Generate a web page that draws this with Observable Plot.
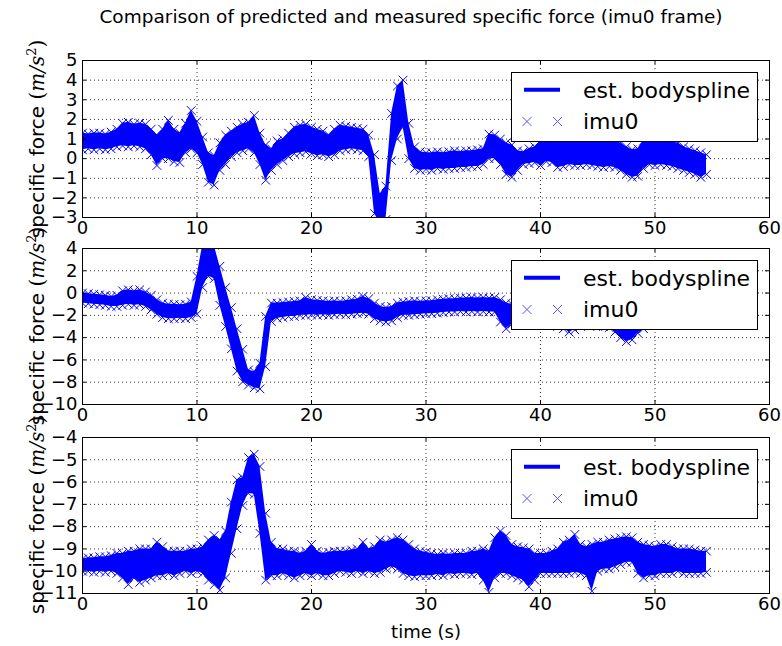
<!DOCTYPE html>
<html><head><meta charset="utf-8">
<script src="https://cdn.jsdelivr.net/npm/d3@7"></script>
<script src="https://cdn.jsdelivr.net/npm/@observablehq/plot@0.6"></script>
<style>
body{margin:0;background:#fff;font-family:"DejaVu Sans",sans-serif;color:#000;}
#wrap{position:relative;width:782px;height:646px;overflow:hidden;background:#fff;}
.panel{position:absolute;left:0;}
.title{position:absolute;top:6px;left:0;width:822px;text-align:center;font-size:18.5px;white-space:nowrap;}
.ylab{position:absolute;left:37px;font-size:20px;white-space:nowrap;transform:translate(-50%,-50%) rotate(-90deg);}
.ylab .m{font-family:"DejaVu Serif",serif;font-style:italic;}
.ylab .p{font-family:"DejaVu Serif",serif;}
.ylab sup{font-size:13px;font-family:"DejaVu Serif",serif;vertical-align:8px;line-height:0;}
.legend{position:absolute;left:511px;}
.xlab{position:absolute;top:621px;left:0;width:852px;text-align:center;font-size:18px;}
</style>
</head><body>
<div id="wrap">
  <div class="title">Comparison of predicted and measured specific force (imu0 frame)</div>
</div>
<script>
// time samples (s)
const T = [0,0.5,1,1.5,2,2.5,3,3.5,4,4.5,5,5.5,6,6.5,7,7.5,8,8.5,9,9.5,
10,10.5,11,11.5,12,12.5,13,13.5,14,14.5,15,15.5,16,16.5,17,17.5,18,18.5,19,19.5,
20,20.5,21,21.5,22,22.5,23,23.5,24,24.5,25,25.5,26,26.5,27,27.5,28,28.5,29,29.5,
30,30.5,31,31.5,32,32.5,33,33.5,34,34.5,35,35.5,36,36.5,37,37.5,38,38.5,39,39.5,
40,40.5,41,41.5,42,42.5,43,43.5,44,44.5,45,45.5,46,46.5,47,47.5,48,48.5,49,49.5,
50,50.5,51,51.5,52,52.5,53,53.5,54,54.5];

// Panel 1 (x axis): lower / upper envelope of imu0 samples
const lo1 = [0.45,0.5,0.45,0.5,0.45,0.5,0.6,0.65,0.6,0.65,
0.6,0.5,0.2,-0.35,0.0,0.0,-0.15,-0.2,0.3,0.5,
0.3,-0.3,-1.2,-1.35,-0.6,-0.3,0.1,0.3,0.4,0.5,
0.3,-0.3,-1.1,-0.6,-0.3,-0.1,0.1,0.25,0.3,0.35,
0.25,0.15,0.2,0.1,0.2,0.4,0.45,0.5,0.45,0.4,
0.1,-2.8,-3.3,-3.1,-0.1,1.0,1.6,0.0,-0.5,-0.6,
-0.55,-0.6,-0.5,-0.55,-0.5,-0.5,-0.45,-0.45,-0.4,-0.4,
-0.3,0.0,0.0,-0.3,-0.8,-0.95,-0.6,-0.3,-0.25,-0.2,
-0.35,-0.15,-0.2,-0.45,-0.4,-0.3,-0.35,-0.35,-0.3,-0.35,
-0.4,-0.45,-0.4,-0.45,-0.6,-0.8,-0.95,-0.9,-0.5,-0.3,
-0.35,-0.3,-0.35,-0.4,-0.5,-0.6,-0.7,-0.8,-0.95,-0.8];
const hi1 = [1.3,1.25,1.3,1.3,1.25,1.35,1.5,1.8,1.85,1.75,
1.8,1.75,1.5,1.2,1.5,1.95,1.5,1.3,1.8,2.45,
1.9,1.1,0.3,0.15,0.8,1.2,1.4,1.6,1.75,1.85,
2.2,1.3,0.7,0.5,0.9,1.0,1.3,1.6,1.7,1.75,
1.6,1.5,1.4,1.2,1.5,1.7,1.65,1.6,1.55,1.5,
1.2,0.2,-1.8,-1.4,2.3,3.7,4.0,1.8,0.6,0.35,
0.3,0.3,0.35,0.3,0.35,0.4,0.35,0.4,0.4,0.45,
0.5,1.25,1.2,1.0,0.8,0.7,0.4,0.35,0.5,0.6,
0.9,1.0,1.0,0.9,0.9,1.0,1.0,1.0,1.1,1.0,
0.95,0.9,0.9,0.9,0.8,0.6,0.45,0.5,0.9,1.0,
1.0,0.95,0.9,0.85,0.8,0.6,0.5,0.4,0.3,0.2];

// Panel 2 (y axis)
const lo2 = [-0.9,-0.95,-1.0,-1.05,-1.1,-1.2,-1.2,-1.1,-1.0,-1.1,
-1.05,-1.2,-1.5,-1.9,-2.2,-2.3,-2.3,-2.25,-2.3,-2.2,
-1.9,0.5,1.5,1.3,-1.1,-3.0,-5.0,-7.0,-7.95,-8.25,
-8.5,-8.6,-6.6,-2.55,-2.25,-2.2,-2.1,-2.1,-2.0,-2.0,
-1.95,-2.0,-1.95,-2.0,-1.95,-1.9,-1.95,-1.9,-1.85,-1.8,
-1.9,-2.3,-2.5,-2.6,-2.5,-2.2,-2.0,-2.0,-1.95,-1.9,
-1.85,-1.85,-1.8,-1.75,-1.7,-1.7,-1.65,-1.7,-1.65,-1.7,
-1.65,-1.7,-1.7,-2.6,-3.2,-2.8,-2.6,-2.5,-2.5,-2.6,
-2.7,-2.7,-2.8,-3.0,-3.2,-3.5,-3.3,-3.0,-2.9,-2.9,
-3.0,-3.0,-3.1,-3.5,-4.0,-4.35,-4.2,-3.6,-3.2,-2.8,
-2.7,-2.7,-2.7,-2.6,-2.6,-2.6,-2.7,-2.7,-2.6,-2.6];
const hi2 = [0.0,-0.05,-0.1,-0.15,-0.2,-0.3,-0.2,0.2,0.3,0.2,
0.3,0.1,-0.2,-0.6,-0.9,-1.0,-1.0,-1.05,-1.0,-0.8,
1.5,4.3,4.3,4.3,2.4,0.5,-1.3,-3.2,-5.05,-6.9,
-7.05,-6.3,-2.1,-0.9,-0.9,-0.85,-0.8,-0.75,-0.7,-0.4,
-0.6,-0.65,-0.7,-0.75,-0.7,-0.75,-0.7,-0.6,-0.55,-0.3,
-0.5,-0.9,-1.2,-1.3,-1.2,-0.9,-0.8,-0.75,-0.7,-0.75,
-0.7,-0.7,-0.6,-0.55,-0.5,-0.5,-0.45,-0.45,-0.4,-0.45,
-0.4,-0.45,-0.4,-0.6,-0.9,-1.0,-1.1,-1.2,-1.2,-1.3,
-1.3,-1.4,-1.4,-1.5,-1.6,-1.7,-1.7,-1.6,-1.5,-1.5,
-1.6,-1.6,-1.7,-2.0,-2.4,-2.6,-2.5,-2.2,-2.0,-1.7,
-1.6,-1.5,-1.5,-1.5,-1.4,-1.4,-1.5,-1.5,-1.4,-1.4];

// Panel 3 (z axis)
const lo3 = [-10.0,-10.0,-10.05,-10.0,-10.05,-10.0,-10.1,-10.3,-10.6,-10.3,
-10.5,-10.4,-10.3,-10.2,-10.2,-10.1,-10.2,-10.1,-10.0,-10.1,
-10.0,-10.1,-10.4,-10.6,-10.85,-10.3,-9.2,-8.1,-7.05,-6.5,
-6.55,-8.3,-10.4,-10.2,-10.2,-10.1,-10.2,-10.3,-10.2,-10.1,
-10.2,-10.1,-10.2,-10.2,-10.1,-10.0,-10.05,-10.1,-10.0,-10.1,
-10.0,-10.1,-10.05,-9.9,-9.8,-9.9,-10.1,-10.2,-10.25,-10.2,
-10.2,-10.2,-10.15,-10.2,-10.1,-10.15,-10.1,-10.1,-10.15,-10.1,
-10.4,-10.95,-10.3,-10.1,-10.1,-10.2,-10.3,-10.4,-10.7,-10.4,
-10.1,-10.1,-10.1,-10.1,-10.1,-10.1,-10.05,-10.1,-10.2,-10.9,
-10.0,-9.9,-9.9,-9.8,-9.7,-9.6,-9.6,-10.1,-10.3,-10.2,
-10.2,-10.1,-10.1,-10.1,-10.0,-10.1,-10.1,-10.1,-10.1,-10.05];
const hi3 = [-9.45,-9.4,-9.4,-9.35,-9.35,-9.3,-9.2,-9.2,-9.1,-9.1,
-9.0,-9.0,-9.0,-8.7,-8.9,-9.1,-9.1,-9.1,-9.1,-9.0,
-9.0,-8.9,-8.6,-8.4,-8.6,-8.2,-6.9,-5.9,-5.8,-4.9,
-4.75,-5.3,-7.4,-8.7,-9.0,-9.0,-9.1,-9.1,-9.2,-9.1,
-8.8,-9.1,-9.2,-9.15,-9.1,-9.1,-9.1,-9.05,-9.0,-8.7,
-9.0,-8.9,-8.6,-8.7,-8.6,-8.5,-8.6,-8.8,-9.0,-9.1,
-9.15,-9.2,-9.25,-9.2,-9.25,-9.2,-9.2,-9.2,-9.1,-9.1,
-9.0,-9.1,-8.5,-8.2,-8.4,-8.8,-8.9,-8.95,-9.0,-9.2,
-9.2,-9.2,-9.1,-9.0,-8.7,-8.6,-8.35,-8.8,-8.9,-8.8,
-8.7,-8.7,-8.6,-8.55,-8.5,-8.45,-8.5,-8.7,-8.8,-8.85,
-8.9,-8.8,-8.8,-8.9,-9.0,-9.0,-9.0,-9.05,-9.1,-9.1];

const X_TICKS = [0,10,20,30,40,50,60];
const Y1_TICKS = [-3,-2,-1,0,1,2,3,4,5];
const Y2_TICKS = [-10,-8,-6,-4,-2,0,2,4];
const Y3_TICKS = [-11,-10,-9,-8,-7,-6,-5,-4];
const SERIES = ["est. bodyspline", "imu0"];
const YLABEL = "specific force";
const XLABEL = "time (s)";

const wrap = document.getElementById("wrap");
const BLUE = "#0000ff";
const fmt = d => (d < 0 ? "\u2212" : "") + Math.abs(d);

function panel(lo, hi, yt, top, frameH) {
  const data = T.map((t, i) => ({t, lo: lo[i], hi: hi[i]}));
  const yd = [yt[0], yt[yt.length - 1]];
  const mt = 10, mb = 30, ml = 82, mr = 13, W = 782;
  const h = frameH + mt + mb;
  const kx = (W - ml - mr) / 60;
  const ky = frameH / (yd[1] - yd[0]);
  const tl = 4;
  const svg = Plot.plot({
    width: W, height: h,
    marginLeft: ml, marginRight: mr, marginTop: mt, marginBottom: mb,
    style: {background: "transparent", overflow: "visible", fontFamily: "DejaVu Sans", fontSize: "18px", color: "#000"},
    x: {domain: [0, 60], ticks: X_TICKS, tickSize: 0, tickPadding: 4, label: null, tickFormat: fmt},
    y: {domain: yd, ticks: yt, tickSize: 0, tickPadding: 5, label: null, tickFormat: fmt},
    marks: [
      Plot.ruleX(X_TICKS, {x: d => d, stroke: "#000", strokeWidth: 0.8, strokeDasharray: "1,3"}),
      Plot.ruleY(yt, {y: d => d, stroke: "#000", strokeWidth: 0.8, strokeDasharray: "1,3"}),
      Plot.areaY(data, {x: "t", y1: "lo", y2: "hi", fill: BLUE, clip: true}),
      Plot.dot(data, {x: "t", y: "lo", symbol: "times", r: 4, stroke: BLUE, strokeWidth: 1, clip: true}),
      Plot.dot(data, {x: "t", y: "hi", symbol: "times", r: 4, stroke: BLUE, strokeWidth: 1, clip: true}),
      Plot.ruleX(X_TICKS, {x: d => d, y1: yd[0], y2: yd[0] + tl / ky, stroke: "#000"}),
      Plot.ruleX(X_TICKS, {x: d => d, y1: yd[1] - tl / ky, y2: yd[1], stroke: "#000"}),
      Plot.ruleY(yt, {y: d => d, x1: 0, x2: tl / kx, stroke: "#000"}),
      Plot.ruleY(yt, {y: d => d, x1: 60 - tl / kx, x2: 60, stroke: "#000"}),
      Plot.frame({stroke: "#000", strokeWidth: 1})
    ]
  });
  svg.classList.add("panel");
  svg.style.top = (top - mt) + "px";
  svg.style.position = "absolute";
  wrap.appendChild(svg);

  // y label
  const yl = document.createElement("div");
  yl.className = "ylab";
  yl.style.top = (top + frameH / 2) + "px";
  yl.innerHTML = YLABEL + ' <span class="p">(</span><span class="m">m/s</span><sup>2</sup><span class="p">)</span>';
  wrap.appendChild(yl);

  // legend
  const lg = document.createElement("div");
  lg.className = "legend";
  lg.style.top = (top + 11.5) + "px";
  const s = d3.create("svg").attr("width", 248).attr("height", 71);
  s.append("rect").attr("x", 0.5).attr("y", 0.5).attr("width", 246).attr("height", 69)
    .attr("fill", "#fff").attr("stroke", "#000").attr("stroke-width", 1);
  s.append("line").attr("x1", 13).attr("x2", 49).attr("y1", 17.8).attr("y2", 17.8)
    .attr("stroke", BLUE).attr("stroke-width", 4);
  for (const cx of [16, 46.5]) {
    s.append("path").attr("d", `M${cx-4.5},${49.5-4.5}L${cx+4.5},${49.5+4.5}M${cx-4.5},${49.5+4.5}L${cx+4.5},${49.5-4.5}`)
      .attr("stroke", "#5555ff").attr("stroke-width", 1).attr("fill", "none");
  }
  s.append("text").attr("x", 72).attr("y", 25.8).attr("font-size", 22).attr("font-family", "DejaVu Sans").text(SERIES[0]);
  s.append("text").attr("x", 72).attr("y", 56.8).attr("font-size", 22).attr("font-family", "DejaVu Sans").text(SERIES[1]);
  lg.appendChild(s.node());
  wrap.appendChild(lg);
}

panel(lo1, hi1, Y1_TICKS, 60, 157);
panel(lo2, hi2, Y2_TICKS, 248, 156);
panel(lo3, hi3, Y3_TICKS, 437, 156);

const xl = document.createElement("div");
xl.className = "xlab";
xl.textContent = XLABEL;
wrap.appendChild(xl);
</script>
</body></html>
